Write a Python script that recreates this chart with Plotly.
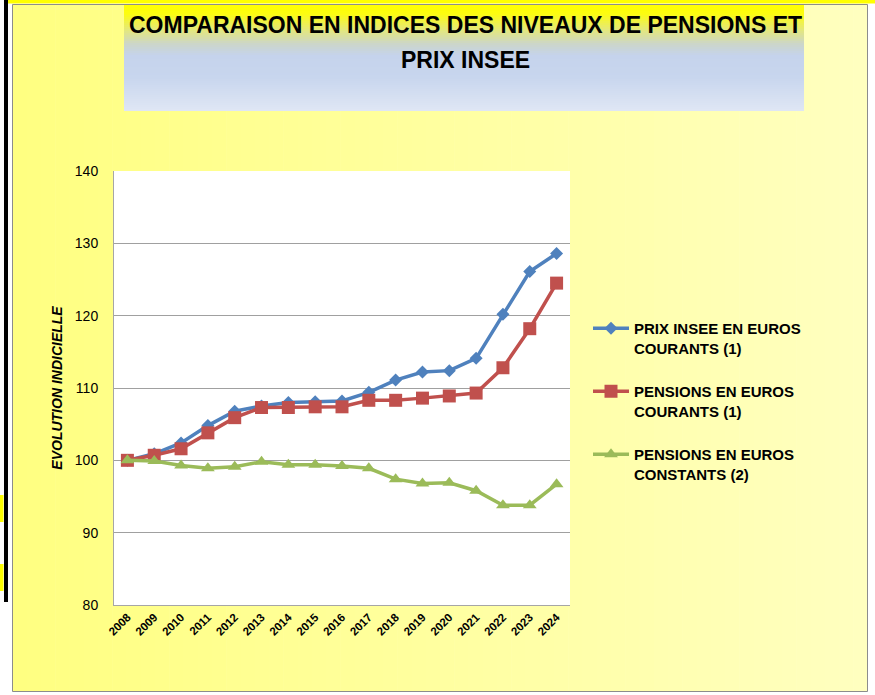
import plotly.graph_objects as go

# ---------------- data ----------------
years = ["2008", "2009", "2010", "2011", "2012", "2013", "2014", "2015", "2016",
         "2017", "2018", "2019", "2020", "2021", "2022", "2023", "2024"]
prix_insee = [100.0, 100.9, 102.4, 104.8, 106.8, 107.5, 108.0, 108.1, 108.2,
              109.4, 111.1, 112.2, 112.4, 114.1, 120.2, 126.1, 128.6]
pensions_courants = [100.0, 100.7, 101.6, 103.8, 105.9, 107.3, 107.3, 107.4, 107.4,
                     108.3, 108.3, 108.6, 108.9, 109.3, 112.8, 118.2, 124.5]
pensions_constants = [100.0, 99.9, 99.3, 98.9, 99.1, 99.8, 99.4, 99.4, 99.2,
                      98.9, 97.4, 96.8, 96.9, 95.8, 93.8, 93.8, 96.7]
series_names = ["PRIX INSEE EN EUROS<br>COURANTS (1)",
                "PENSIONS EN EUROS<br>COURANTS (1)",
                "PENSIONS EN EUROS<br>CONSTANTS (2)"]
y_ticks = [80, 90, 100, 110, 120, 130, 140]
title_lines = ["COMPARAISON EN INDICES DES NIVEAUX DE PENSIONS ET", "PRIX INSEE"]
y_title = "EVOLUTION INDICIELLE"

W, H = 875, 695
FONT = "Liberation Sans, Arial, sans-serif"


def px(x):
    return x / W


def py(y):
    return 1 - y / H


def hex2rgb(h):
    h = h.lstrip("#")
    return tuple(int(h[i:i + 2], 16) for i in (0, 2, 4))


def lerp_color(stops, t):
    for i in range(len(stops) - 1):
        t0, c0 = stops[i]
        t1, c1 = stops[i + 1]
        if t0 <= t <= t1:
            f = 0 if t1 == t0 else (t - t0) / (t1 - t0)
            a, b = hex2rgb(c0), hex2rgb(c1)
            return "rgb(%d,%d,%d)" % tuple(round(a[k] + (b[k] - a[k]) * f) for k in range(3))
    return "rgb(%d,%d,%d)" % hex2rgb(stops[-1][1])


shapes = []
# white page surroundings, black side bar, yellow top strip
shapes.append(dict(type="rect", xref="paper", yref="paper", x0=0, x1=1, y0=0, y1=1,
                   fillcolor="white", line=dict(width=0), layer="below"))
shapes.append(dict(type="rect", xref="paper", yref="paper", x0=px(8), x1=px(875), y0=py(3.5), y1=py(0),
                   fillcolor="#FFFF00", line=dict(width=0), layer="below"))
shapes.append(dict(type="rect", xref="paper", yref="paper", x0=px(4), x1=px(8), y0=py(602), y1=py(0),
                   fillcolor="black", line=dict(width=0), layer="below"))
for a, b in [(495, 522), (564, 591)]:
    shapes.append(dict(type="rect", xref="paper", yref="paper", x0=px(0), x1=px(3.5), y0=py(b), y1=py(a),
                       fillcolor="#FFFF00", line=dict(width=0), layer="below"))

# chart area horizontal yellow gradient
x_left, x_right, y_top, y_bot = 12.5, 867.5, 4.5, 691.5
bg_stops = [(0.0, "#FFFF80"), (1.0, "#FFFFC0")]
n = 60
for i in range(n):
    xa = x_left + (x_right - x_left) * i / n
    xb = x_left + (x_right - x_left) * (i + 1) / n + 0.6
    shapes.append(dict(type="rect", xref="paper", yref="paper", x0=px(xa), x1=px(min(xb, x_right)),
                       y0=py(y_bot), y1=py(y_top), fillcolor=lerp_color(bg_stops, (i + 0.5) / n),
                       line=dict(width=0), layer="below"))

# title box vertical gradient
tb_l, tb_r, tb_t, tb_b = 124, 804, 5, 111
tb_stops = [(5, "#FFFF00"), (14, "#FCFC10"), (30, "#E4E87A"), (44, "#CCD6C8"),
            (56, "#C5D3EC"), (78, "#C8D6EE"), (111, "#DFE6F4")]
m = 53
for i in range(m):
    ya = tb_t + (tb_b - tb_t) * i / m
    yb = tb_t + (tb_b - tb_t) * (i + 1) / m + 0.6
    shapes.append(dict(type="rect", xref="paper", yref="paper", x0=px(tb_l), x1=px(tb_r),
                       y0=py(min(yb, tb_b)), y1=py(ya), fillcolor=lerp_color(tb_stops, (ya + yb) / 2),
                       line=dict(width=0), layer="below"))

# frame
shapes.append(dict(type="rect", xref="paper", yref="paper", x0=px(x_left), x1=px(x_right),
                   y0=py(y_bot), y1=py(y_top), fillcolor="rgba(0,0,0,0)",
                   line=dict(color="#8C8C8C", width=1), layer="below"))

# plot area
PL, PR, PT, PB = 114, 570, 171, 605
shapes.append(dict(type="rect", xref="paper", yref="paper", x0=px(PL), x1=px(PR), y0=py(PB), y1=py(PT),
                   fillcolor="white", line=dict(width=0), layer="below"))

fig = go.Figure()
colors = ["#4F81BD", "#C0504D", "#9BBB59"]
symbols = ["diamond", "square", "triangle-up"]
sizes = [10, 13, 12]
for i, vals in enumerate([prix_insee, pensions_courants, pensions_constants]):
    fig.add_trace(go.Scatter(
        x=years, y=vals, name=series_names[i], mode="lines+markers",
        line=dict(color=colors[i], width=3.5),
        marker=dict(symbol=symbols[i], size=sizes[i], color=colors[i]),
        legendgroup="g%d" % i,
    ))

annotations = [
    dict(text="<b>%s</b>" % title_lines[0], xref="paper", yref="paper", x=px(465), y=py(25),
         xanchor="center", yanchor="middle", showarrow=False, font=dict(family=FONT, size=23, color="black")),
    dict(text="<b>%s</b>" % title_lines[1], xref="paper", yref="paper", x=px(465), y=py(60),
         xanchor="center", yanchor="middle", showarrow=False, font=dict(family=FONT, size=23, color="black")),
]

fig.update_layout(
    width=W, height=H,
    margin=dict(l=0, r=0, t=0, b=0, pad=0),
    paper_bgcolor="white", plot_bgcolor="white",
    shapes=shapes, annotations=annotations,
    font=dict(family=FONT, color="black"),
    showlegend=True,
    legend=dict(x=px(588), y=py(312), xanchor="left", yanchor="top", valign="top",
                bgcolor="rgba(0,0,0,0)", tracegroupgap=21, itemwidth=36,
                font=dict(family=FONT, size=15, color="black", weight="bold")),
    xaxis=dict(domain=[px(PL), px(PR)], type="category", range=[-0.5, 16.5],
               tickangle=-45, tickfont=dict(family=FONT, size=11.5, color="black", weight="bold"),
               showgrid=False, showline=True, linecolor="#A6A6A6", linewidth=1, ticks="",
               automargin=False, zeroline=False),
    yaxis=dict(domain=[py(PB), py(PT)], range=[80, 140], tickvals=y_ticks,
               tickfont=dict(family=FONT, size=14, color="black"), ticklabelstandoff=12,
               showgrid=True, gridcolor="#A0A0A0", gridwidth=1,
               showline=True, linecolor="#A6A6A6", linewidth=1, ticks="",
               automargin=False, zeroline=False,
               title=dict(text="<b><i>%s</i></b>" % y_title, font=dict(family=FONT, size=14, color="black"),
                          standoff=8)),
)

fig.write_html("out.html", config={"displayModeBar": False},
               post_script="document.body.style.margin='0';document.body.style.overflow='hidden';")
